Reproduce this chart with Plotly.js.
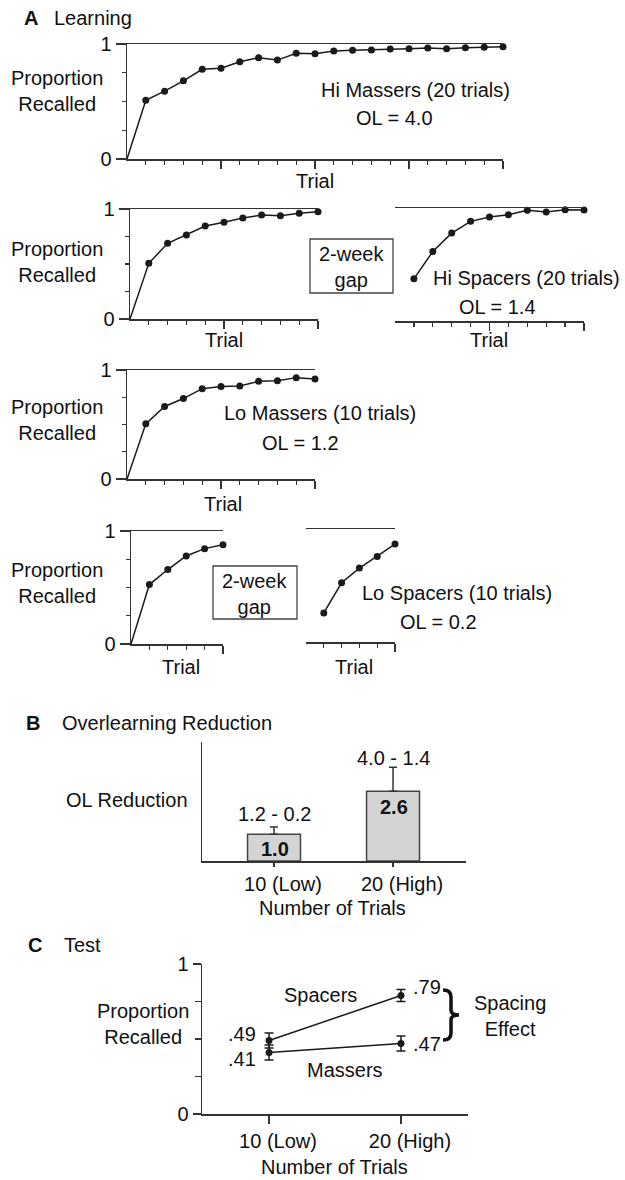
<!DOCTYPE html>
<html><head><meta charset="utf-8">
<script src="https://cdn.plot.ly/plotly-3.0.1.min.js"></script>
<style>html,body{margin:0;padding:0;background:#fff}#chart{width:625px;height:1180px}</style>
</head><body><div id="chart"></div>
<script>
// ---------- DATA ----------
// Panel A: proportion recalled per learning trial
const hiMassers   = [0.51, 0.59, 0.68, 0.78, 0.79, 0.845, 0.88, 0.86, 0.92, 0.915, 0.94, 0.945, 0.948, 0.956, 0.959, 0.965, 0.959, 0.968, 0.971, 0.977];
const hiSpacersS1 = [0.506, 0.688, 0.764, 0.845, 0.879, 0.918, 0.945, 0.939, 0.961, 0.976];
const hiSpacersS2 = [0.373, 0.615, 0.778, 0.882, 0.920, 0.941, 0.979, 0.964, 0.985, 0.982];
const loMassers   = [0.506, 0.665, 0.738, 0.829, 0.848, 0.854, 0.896, 0.902, 0.930, 0.918];
const loSpacersS1 = [0.526, 0.659, 0.779, 0.844, 0.879];
const loSpacersS2 = [0.257, 0.524, 0.654, 0.757, 0.867];
const groupNames  = ['Hi Massers (20 trials)', 'Hi Spacers (20 trials)', 'Lo Massers (10 trials)', 'Lo Spacers (10 trials)'];
const olValues    = [4.0, 1.4, 1.2, 0.2];
const gapLabel    = '2-week<br>gap';
// Panel B
const trialCats      = ['10 (Low)', '20 (High)'];
const olReduction    = [1.0, 2.6];
const olReductionErr = [0.27, 0.9];
const olDiffLabels   = ['1.2 - 0.2', '4.0 - 1.4'];
// Panel C
const testSpacers    = [0.49, 0.79];
const testMassers    = [0.41, 0.47];
const testSpacersErr = [0.05, 0.04];
const testMassersErr = [0.05, 0.05];

// ---------- HELPERS ----------
const W = 625, H = 1180;
const FONT = '"Liberation Sans", Arial, Helvetica, sans-serif';
const INK = '#111', AX = '#333';
const xd = (a, b) => [a / W, b / W];
const yd = (t, b) => [1 - b / H, 1 - t / H];
const px = v => v / W, py = v => 1 - v / H;
const range1 = n => Array.from({length: n}, (_, i) => i + 1);

const layout = {
  width: W, height: H, margin: {l: 0, r: 0, t: 0, b: 0},
  paper_bgcolor: '#fff', plot_bgcolor: 'rgba(0,0,0,0)',
  showlegend: false, font: {family: FONT, size: 20, color: INK},
  annotations: [], shapes: []
};
const traces = [];
function ann(text, x, y, o) {
  layout.annotations.push(Object.assign({xref: 'paper', yref: 'paper', x: px(x), y: py(y),
    xanchor: 'center', yanchor: 'middle', showarrow: false, text: text,
    font: {family: FONT, size: 20, color: INK}}, o || {}));
}

// ---------- PANEL A ----------
const specs = [
  {id: 1, x: [127, 503], y: [44, 159],  data: hiMassers,   yax: true,  origin: true},
  {id: 2, x: [130, 318], y: [209, 319], data: hiSpacersS1, yax: true,  origin: true},
  {id: 3, x: [395, 584], y: [208, 321], data: hiSpacersS2, yax: false, origin: false},
  {id: 4, x: [127, 315], y: [370, 479], data: loMassers,   yax: true,  origin: true},
  {id: 5, x: [131, 223], y: [531, 644], data: loSpacersS1, yax: true,  origin: true},
  {id: 6, x: [306, 395], y: [529, 642], data: loSpacersS2, yax: false, origin: false}
];
specs.forEach(s => {
  const n = s.data.length, tr = range1(n);
  const xa = 'xaxis' + s.id, ya = 'yaxis' + s.id;
  layout[xa] = {domain: xd(s.x[0], s.x[1]), range: [0, n], anchor: 'y' + s.id,
    showline: true, linecolor: AX, linewidth: 1.5, mirror: true,
    ticks: 'outside', tickmode: 'array', tickvals: tr.filter(v => v % 5 === 0),
    ticklen: 8, tickwidth: 1.2, tickcolor: AX, showticklabels: false,
    showgrid: false, zeroline: false, fixedrange: true,
    minor: {ticks: 'outside', tickmode: 'array', tickvals: tr, ticklen: 4, tickwidth: 1.2, tickcolor: AX, showgrid: false}};
  layout[ya] = {domain: yd(s.y[0], s.y[1]), range: [0, 1], anchor: 'x' + s.id,
    visible: s.yax, showline: true, linecolor: AX, linewidth: 1.5,
    ticks: 'outside', tickmode: 'array', tickvals: [0, 1], ticktext: ['0', '1'],
    ticklen: 10, tickwidth: 1.2, tickcolor: AX, tickfont: {size: 20, color: INK},
    showgrid: false, zeroline: false, fixedrange: true,
    minor: {ticks: 'outside', tickmode: 'array', tickvals: [0.25, 0.5, 0.75], ticklen: 4, tickwidth: 1.2, tickcolor: AX, showgrid: false}};
  const lx = s.origin ? [0].concat(tr) : tr;
  const ly = s.origin ? [0].concat(s.data) : s.data;
  traces.push({type: 'scatter', mode: 'lines', x: lx, y: ly, xaxis: 'x' + s.id, yaxis: 'y' + s.id,
    line: {color: '#1a1a1a', width: 1.5}, cliponaxis: false, hoverinfo: 'skip'});
  traces.push({type: 'scatter', mode: 'markers', x: tr, y: s.data, xaxis: 'x' + s.id, yaxis: 'y' + s.id,
    marker: {color: '#1a1a1a', size: 7}, cliponaxis: false});
});

ann('<b>A</b>', 31, 18);
ann('Learning', 52, 18, {xanchor: 'left'});
[91, 262, 420, 583].forEach(y => ann('Proportion<br>Recalled', 57, y));
ann('Trial', 315, 181); ann('Trial', 224, 340); ann('Trial', 489, 340);
ann('Trial', 223, 504); ann('Trial', 181, 667); ann('Trial', 354, 667);
const groupPos = [[415, 90, 394, 118], [526, 278, 498, 307], [320, 413, 300, 443], [457, 593, 438, 622]];
groupNames.forEach((g, i) => {
  const p = groupPos[i];
  ann(g, p[0], p[1]);
  ann('OL = ' + olValues[i].toFixed(1), p[2], p[3]);
});
[[310, 393, 239, 293], [213, 297, 566, 619]].forEach(b => {
  layout.shapes.push({type: 'rect', xref: 'paper', yref: 'paper', x0: px(b[0]), x1: px(b[1]),
    y0: py(b[3]), y1: py(b[2]), line: {color: '#444', width: 1.3}, fillcolor: 'rgba(0,0,0,0)'});
  ann(gapLabel, (b[0] + b[1]) / 2, (b[2] + b[3]) / 2 + 1);
});

// ---------- PANEL B ----------
layout.xaxis7 = {domain: xd(202, 466), anchor: 'y7', type: 'category', range: [-0.605, 1.613],
  showline: true, linecolor: AX, linewidth: 1.5, ticks: 'outside', ticklen: 4, tickwidth: 1.2, tickcolor: AX,
  tickfont: {size: 20, color: INK}, ticklabelshift: 9, ticklabelstandoff: 0,
  showgrid: false, zeroline: false, fixedrange: true};
layout.yaxis7 = {domain: yd(742, 861), anchor: 'x7', range: [0, 4.44],
  showline: true, linecolor: AX, linewidth: 1.5, ticks: '', showticklabels: false,
  showgrid: false, zeroline: false, fixedrange: true};
traces.push({type: 'bar', x: trialCats, y: olReduction, xaxis: 'x7', yaxis: 'y7', width: 0.445,
  marker: {color: '#d4d4d4', line: {color: '#444', width: 1.5}},
  error_y: {type: 'data', symmetric: false, array: olReductionErr, arrayminus: [0, 0],
    color: AX, thickness: 1.5, width: 4}});
ann('<b>B</b>', 33, 723);
ann('Overlearning Reduction', 60, 723, {xanchor: 'left'});
ann('OL Reduction', 127, 800);
const barValY = [849, 807], diffY = [814, 758];
olReduction.forEach((v, i) => {
  layout.annotations.push({xref: 'x7', yref: 'paper', x: trialCats[i], y: py(barValY[i]), xshift: 1,
    text: '<b>' + v.toFixed(1) + '</b>', showarrow: false, xanchor: 'center', yanchor: 'middle',
    font: {family: FONT, size: 20, color: INK}});
  layout.annotations.push({xref: 'x7', yref: 'paper', x: trialCats[i], y: py(diffY[i]),
    text: olDiffLabels[i], showarrow: false, xanchor: 'center', yanchor: 'middle',
    font: {family: FONT, size: 20, color: INK}});
});
ann('Number of Trials', 332, 908);

// ---------- PANEL C ----------
layout.xaxis8 = {domain: xd(202, 468), anchor: 'y8', type: 'category', range: [-0.508, 1.508],
  showline: true, linecolor: AX, linewidth: 1.5, ticks: 'outside', ticklen: 8, tickwidth: 1.2, tickcolor: AX,
  tickfont: {size: 20, color: INK}, ticklabelshift: 9, ticklabelstandoff: 0,
  showgrid: false, zeroline: false, fixedrange: true};
layout.yaxis8 = {domain: yd(964, 1114), anchor: 'x8', range: [0, 1],
  showline: true, linecolor: AX, linewidth: 1.5, ticks: 'outside', tickmode: 'array',
  tickvals: [0, 1], ticktext: ['0', '1'], ticklen: 8, tickwidth: 1.2, tickcolor: AX,
  tickfont: {size: 20, color: INK}, showgrid: false, zeroline: false, fixedrange: true,
  minor: {ticks: 'outside', tickmode: 'array', tickvals: [0.25, 0.5, 0.75], ticklen: 6, tickwidth: 1.2, tickcolor: AX, showgrid: false}};
[[testSpacers, testSpacersErr], [testMassers, testMassersErr]].forEach(d => {
  traces.push({type: 'scatter', mode: 'lines+markers', x: trialCats, y: d[0], xaxis: 'x8', yaxis: 'y8',
    line: {color: '#1a1a1a', width: 1.5}, marker: {color: '#1a1a1a', size: 7}, cliponaxis: false,
    error_y: {type: 'data', array: d[1], color: '#1a1a1a', thickness: 1.5, width: 4.5}});
});
const fmt = v => v.toFixed(2).replace(/^0/, '');
const labShift = [[[-27, 7], [26, 9]], [[-27, -6], [26, 0]]];
[testSpacers, testMassers].forEach((arr, s) => arr.forEach((v, i) => {
  layout.annotations.push({xref: 'x8', yref: 'y8', x: trialCats[i], y: v,
    xshift: labShift[s][i][0], yshift: labShift[s][i][1], text: fmt(v), showarrow: false,
    xanchor: 'center', yanchor: 'middle', font: {family: FONT, size: 20, color: INK}});
}));
ann('<b>C</b>', 35, 945);
ann('Test', 62, 945, {xanchor: 'left'});
ann('Proportion<br>Recalled', 143, 1024);
ann('Spacers', 321, 995);
ann('Massers', 345, 1070);
ann('Spacing<br>Effect', 510, 1016);
ann('Number of Trials', 334, 1167);
// brace
const bp = [[443, 990], [451, 990], [451, 997], [451, 1010], [451, 1015], [459, 1015], [451, 1015], [451, 1020], [451, 1033], [451, 1040], [443, 1040]];
const P = p => px(p[0]).toFixed(5) + ',' + py(p[1]).toFixed(5);
const bracePath = 'M' + P(bp[0]) + ' Q' + P(bp[1]) + ' ' + P(bp[2]) + ' L' + P(bp[3]) +
  ' Q' + P(bp[4]) + ' ' + P(bp[5]) + ' Q' + P(bp[6]) + ' ' + P(bp[7]) + ' L' + P(bp[8]) +
  ' Q' + P(bp[9]) + ' ' + P(bp[10]);
layout.shapes.push({type: 'path', xref: 'paper', yref: 'paper', path: bracePath,
  line: {color: '#111', width: 3.5}});

Plotly.newPlot('chart', traces, layout, {staticPlot: true, displayModeBar: false});
</script>
</body></html>
